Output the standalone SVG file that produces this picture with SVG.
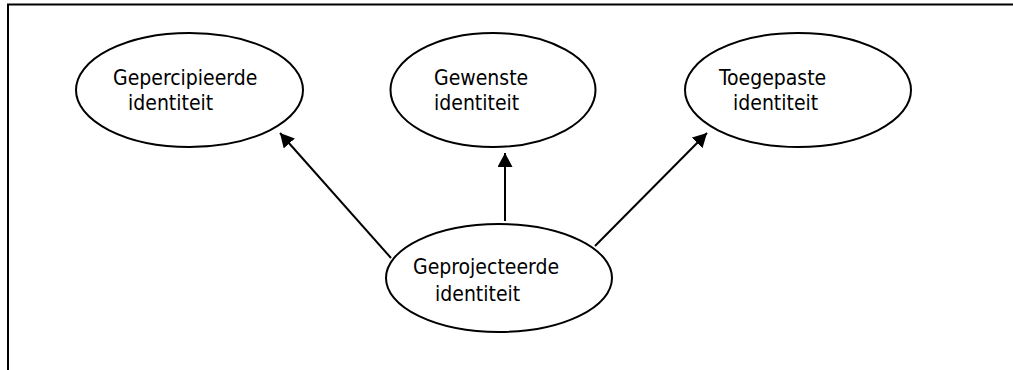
<svg xmlns="http://www.w3.org/2000/svg" width="1013" height="370" viewBox="0 0 1013 370">
<style>
.frame{stroke:#000;stroke-width:2;fill:none}
.node{fill:#fff;stroke:#000;stroke-width:2}
.lbl{font-family:"DejaVu Sans Condensed","DejaVu Sans",sans-serif;font-stretch:condensed;font-size:21px;fill:#000}
.conn{stroke:#000;stroke-width:2;fill:none;marker-end:url(#arrow)}
</style>
<defs>
<marker id="arrow" markerUnits="userSpaceOnUse" markerWidth="15" markerHeight="15" refX="14" refY="7.5" orient="auto">
<path d="M0,0 L14,7.5 L0,15 Z" fill="#000"/>
</marker>
</defs>
<rect width="1013" height="370" fill="#fff"/>
<path class="frame" d="M8,370 L8,4.5 L1013,4.5"/>
<g id="connectors">
<line class="conn" x1="391" y1="258" x2="280" y2="133"/>
<line class="conn" x1="505" y1="221" x2="505" y2="153"/>
<line class="conn" x1="595" y1="246" x2="707" y2="133"/>
</g>
<g id="gepercipieerde">
<ellipse class="node" cx="189.5" cy="90" rx="113.5" ry="57"/>
<text class="lbl" x="113" y="85">Gepercipieerde</text>
<text class="lbl" x="128" y="110">identiteit</text>
</g>
<g id="gewenste">
<ellipse class="node" cx="493" cy="90" rx="102.5" ry="57"/>
<text class="lbl" x="434" y="85">Gewenste</text>
<text class="lbl" x="434" y="110">identiteit</text>
</g>
<g id="toegepaste">
<ellipse class="node" cx="798" cy="90" rx="113" ry="57"/>
<text class="lbl" x="719" y="85">Toegepaste</text>
<text class="lbl" x="733" y="110">identiteit</text>
</g>
<g id="geprojecteerde">
<ellipse class="node" cx="499" cy="278" rx="113" ry="54"/>
<text class="lbl" x="413" y="274">Geprojecteerde</text>
<text class="lbl" x="435" y="301">identiteit</text>
</g>
</svg>
